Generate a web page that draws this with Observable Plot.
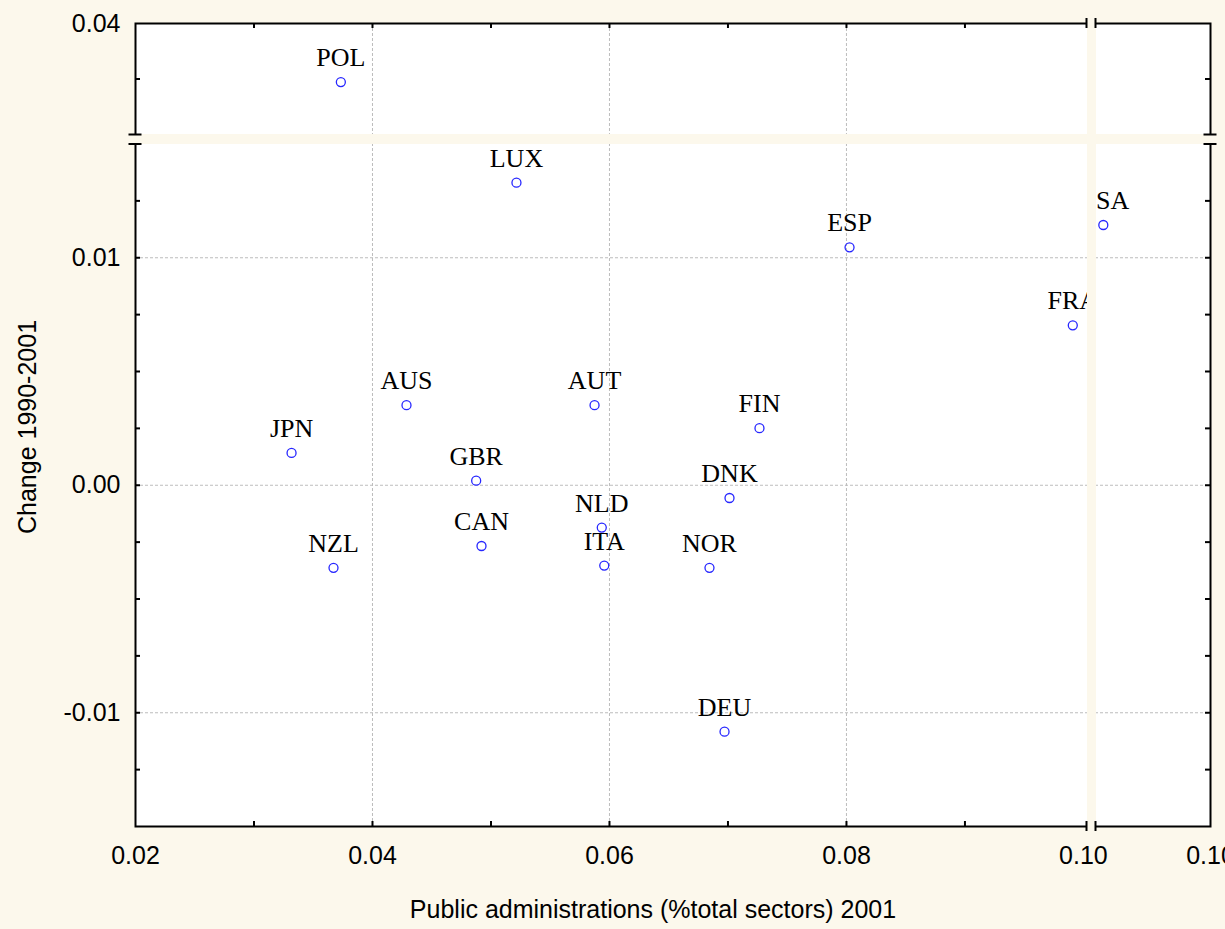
<!DOCTYPE html>
<html><head><meta charset="utf-8">
<script src="https://cdn.jsdelivr.net/npm/d3@7"></script>
<script src="https://cdn.jsdelivr.net/npm/@observablehq/plot@0.6"></script>
<style>
html,body{margin:0;padding:0;background:#fcf8ec;overflow:hidden;}
#chart svg{display:block;overflow:hidden;}
</style></head><body><div id="chart"></div>
<script>
const countries = ["POL","LUX","ESP","USA","FRA","AUS","AUT","FIN","JPN","GBR","DNK","NLD","CAN","ITA","NZL","NOR","DEU"];
const publicAdmin2001 = [0.03733,0.05215,0.08026,0.10063,0.09910,0.04287,0.05874,0.07266,0.03317,0.04875,0.07013,0.05935,0.04920,0.05956,0.03671,0.06844,0.06971];
const change1990_2001 = [0.03736,0.01330,0.01046,0.01144,0.00703,0.00352,0.00352,0.00251,0.00142,0.00020,-0.00056,-0.00186,-0.00267,-0.00353,-0.00363,-0.00363,-0.01083];

// broken axes
const xDomain = [0.02, 0.1003, 0.1004, 0.104];
const yDomain = [-0.015, 0.015, 0.035, 0.04];
const xBreak = [0.1003, 0.1004];
const yBreak = [0.015, 0.035];

const xTickValues = [0.02, 0.04, 0.06, 0.08, 0.10, 0.104];
const xTickLabels = ["0.02", "0.04", "0.06", "0.08", "0.10", "0.10"];
const yTickValues = [0.04, 0.01, 0.00, -0.01];
const yTickLabels = ["0.04", "0.01", "0.00", "-0.01"];
const xGrid = [0.04, 0.06, 0.08];
const yGrid = [0.01, 0.00, -0.01];
const xMinorTicks = [0.03, 0.04, 0.05, 0.06, 0.07, 0.08, 0.09];
const yMinorTicks = [0.0375, 0.0125, 0.01, 0.0075, 0.005, 0.0025, 0, -0.0025, -0.005, -0.0075, -0.01, -0.0125];

const xTitle = "Public administrations (%total sectors) 2001";
const yTitle = "Change 1990-2001";

const bg = "#fcf8ec";
const data = countries.map((c, i) => ({country: c, x: publicAdmin2001[i], y: change1990_2001[i]}));
const leftData = data.filter(d => d.x <= xBreak[0]);
const rightData = data.filter(d => d.x >= xBreak[1]);
const xLab = new Map(xTickValues.map((t, i) => [t, xTickLabels[i]]));
const yLab = new Map(yTickValues.map((t, i) => [t, yTickLabels[i]]));

const W = 1225, H = 929, ML = 135, MR = 15, MT = 23, MB = 103;
const labelStyle = {x: "x", y: "y", text: "country", dy: -16, lineAnchor: "bottom", fontFamily: "Liberation Serif", fontSize: 26, fill: "black"};

const chart = Plot.plot({
  width: W, height: H,
  marginLeft: ML, marginRight: MR, marginTop: MT, marginBottom: MB,
  style: {background: "transparent", overflow: "hidden", color: "black"},
  x: {type: "linear", domain: xDomain, range: [ML, 1086.5, 1095.5, W - MR]},
  y: {type: "linear", domain: yDomain, range: [H - MB, 143.5, 134, MT]},
  marks: [
    Plot.frame({fill: "white", stroke: null}),
    Plot.ruleX(xGrid, {stroke: "#bdbdbd", strokeDasharray: "3,2", strokeWidth: 1}),
    Plot.ruleY(yGrid, {stroke: "#bdbdbd", strokeDasharray: "3,2", strokeWidth: 1}),
    Plot.frame({stroke: "black", strokeWidth: 2}),
    // inward ticks
    Plot.ruleX(xMinorTicks, {y1: yDomain[0], y2: yDomain[0], insetTop: -5, stroke: "black", strokeWidth: 2}),
    Plot.ruleX(xMinorTicks, {y1: yDomain[3], y2: yDomain[3], insetBottom: -5, stroke: "black", strokeWidth: 2}),
    Plot.ruleY(yMinorTicks, {x1: xDomain[0], x2: xDomain[0], insetRight: -5, stroke: "black", strokeWidth: 2}),
    Plot.ruleY(yMinorTicks, {x1: xDomain[3], x2: xDomain[3], insetLeft: -5, stroke: "black", strokeWidth: 2}),
    // points and labels
    Plot.dot(data, {x: "x", y: "y", r: 4.5, stroke: "#2626ff", strokeWidth: 1.3, fill: "none"}),
    Plot.text(leftData, {...labelStyle, ariaDescription: "labels-left"}),
    Plot.text(rightData, {...labelStyle, ariaDescription: "labels-right"}),
    // break bands
    Plot.rect([0], {x1: xBreak[0], x2: xBreak[1], y1: yDomain[0], y2: yDomain[3], insetLeft: 0.5, insetRight: -0.5, insetTop: -4, insetBottom: -4, fill: bg}),
    Plot.rect([0], {x1: xDomain[0], x2: xDomain[3], y1: yBreak[0], y2: yBreak[1], insetLeft: -3, insetRight: -3, insetBottom: -0.5, fill: bg}),
    // break markers
    Plot.ruleX(xBreak, {y1: yDomain[3], y2: yDomain[3], insetTop: -5, insetBottom: -5, dx: -0.5, stroke: "black", strokeWidth: 2}),
    Plot.ruleX(xBreak, {y1: yDomain[0], y2: yDomain[0], insetTop: -5, insetBottom: -5, dx: -0.5, stroke: "black", strokeWidth: 2}),
    Plot.ruleY(yBreak, {x1: xDomain[0], x2: xDomain[0], insetLeft: -6.5, insetRight: -6.5, stroke: "black", strokeWidth: 2}),
    Plot.ruleY(yBreak, {x1: xDomain[3], x2: xDomain[3], insetLeft: -6.5, insetRight: -6.5, stroke: "black", strokeWidth: 2}),
    // axes labels
    Plot.axisX({ticks: xTickValues, tickSize: 0, tickPadding: 20, tickFormat: d => xLab.get(d), fontSize: 25, fontFamily: "Liberation Sans", fill: "black", label: null}),
    Plot.axisY({ticks: yTickValues, tickSize: 0, tickPadding: 15, tickFormat: d => yLab.get(d), fontSize: 25, fontFamily: "Liberation Sans", fill: "black", label: null}),
    Plot.text([xTitle], {frameAnchor: "bottom", textAnchor: "middle", dx: -20, dy: 91, lineAnchor: "bottom", fontSize: 25, fontFamily: "Liberation Sans", fill: "black"}),
    Plot.text([yTitle], {frameAnchor: "left", textAnchor: "middle", dx: -108, dy: 2, rotate: -90, lineAnchor: "middle", fontSize: 25, fontFamily: "Liberation Sans", fill: "black"})
  ]
});

// clip labels to their own axis segment, as in the broken-axis original
const xs = chart.scale("x");
const svg = d3.select(chart);
const defs = svg.insert("defs", ":first-child");
defs.append("clipPath").attr("id", "clip-left").append("rect")
  .attr("x", 0).attr("y", 0).attr("width", xs.apply(xBreak[0]) + 0.5).attr("height", H);
defs.append("clipPath").attr("id", "clip-right").append("rect")
  .attr("x", xs.apply(xBreak[1])).attr("y", 0).attr("width", W).attr("height", H);
svg.selectAll('g[aria-description="labels-left"]').attr("clip-path", "url(#clip-left)");
svg.selectAll('g[aria-description="labels-right"]').attr("clip-path", "url(#clip-right)");

document.getElementById("chart").appendChild(chart);
</script>
</body></html>
